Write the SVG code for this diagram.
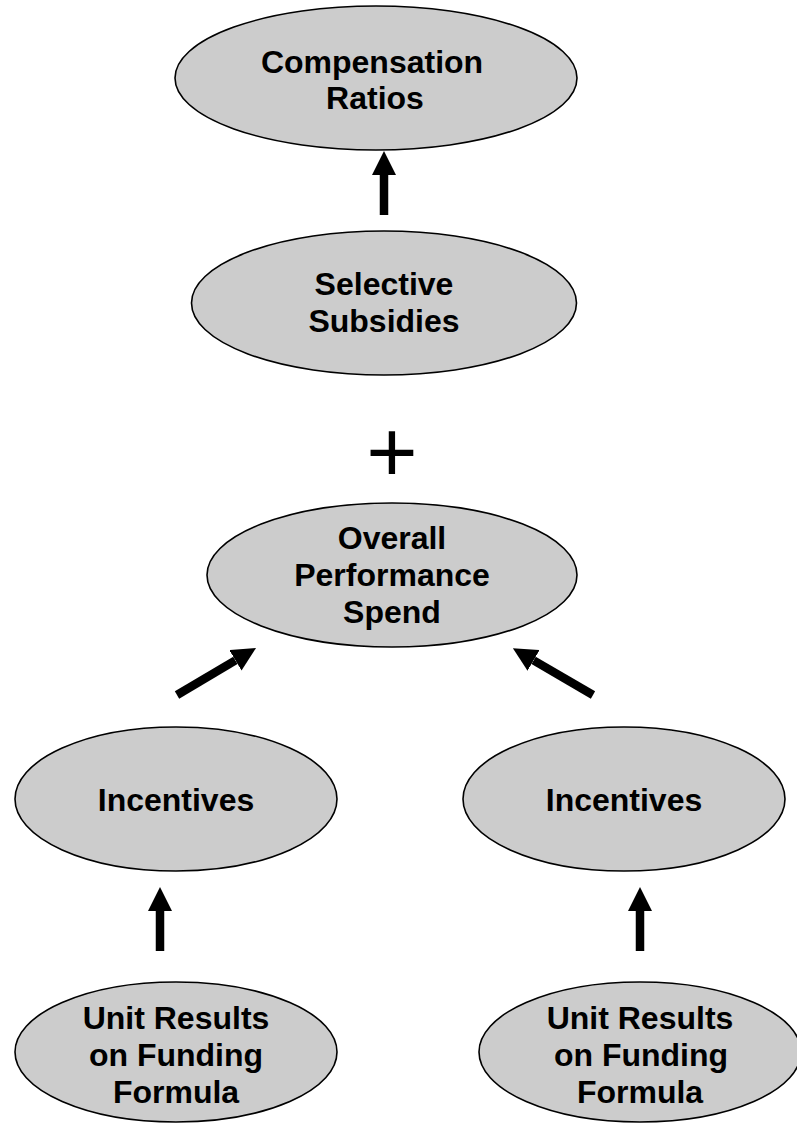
<svg xmlns="http://www.w3.org/2000/svg" width="797" height="1124" viewBox="0 0 797 1124">
<style>
  .node ellipse { fill: #cccccc; stroke: #000000; stroke-width: 1.6; }
  .node text { font-family: "Liberation Sans", Arial, sans-serif; font-weight: bold; font-size: 32px; fill: #000000; text-anchor: middle; }
  .conn { stroke: #000000; stroke-width: 8.5; stroke-linecap: butt; fill: none; marker-end: url(#ah); }
  .op { font-family: "Liberation Sans", Arial, sans-serif; font-size: 88px; fill: #000000; text-anchor: middle; }
</style>
<defs>
  <marker id="ah" markerUnits="userSpaceOnUse" markerWidth="24" markerHeight="24" viewBox="0 0 24 24" refX="0" refY="12" orient="auto">
    <path d="M0,0 L24,12 L0,24 Z" fill="#000000"/>
  </marker>
</defs>
<rect x="0" y="0" width="797" height="1124" fill="#ffffff"/>

<g id="connectors">
  <line class="conn" x1="384" y1="215" x2="384" y2="175"/>
  <line class="conn" x1="177" y1="695" x2="235.4" y2="660.3"/>
  <line class="conn" x1="593" y1="695" x2="533.6" y2="660.3"/>
  <line class="conn" x1="160" y1="951" x2="160" y2="911"/>
  <line class="conn" x1="640" y1="951" x2="640" y2="911"/>
</g>

<g id="node-compensation" class="node">
  <ellipse cx="376" cy="78" rx="201" ry="72"/>
  <text x="372" y="73">Compensation</text>
  <text x="375" y="109">Ratios</text>
</g>

<g id="node-selective" class="node">
  <ellipse cx="384" cy="303" rx="192.5" ry="72"/>
  <text x="384" y="295">Selective</text>
  <text x="384" y="332">Subsidies</text>
</g>

<text id="plus" class="op" x="392" y="482">+</text>

<g id="node-overall" class="node">
  <ellipse cx="392" cy="575" rx="185" ry="72"/>
  <text x="392" y="549">Overall</text>
  <text x="392" y="586">Performance</text>
  <text x="392" y="623">Spend</text>
</g>

<g id="node-incentives-left" class="node">
  <ellipse cx="176" cy="799" rx="161" ry="72"/>
  <text x="176" y="811">Incentives</text>
</g>

<g id="node-incentives-right" class="node">
  <ellipse cx="624" cy="799" rx="161" ry="72"/>
  <text x="624" y="811">Incentives</text>
</g>

<g id="node-unit-left" class="node">
  <ellipse cx="176" cy="1052" rx="161" ry="70"/>
  <text x="176" y="1029">Unit Results</text>
  <text x="176" y="1066">on Funding</text>
  <text x="176" y="1103">Formula</text>
</g>

<g id="node-unit-right" class="node">
  <ellipse cx="640" cy="1052" rx="161" ry="70"/>
  <text x="640" y="1029">Unit Results</text>
  <text x="641" y="1066">on Funding</text>
  <text x="640" y="1103">Formula</text>
</g>
</svg>
